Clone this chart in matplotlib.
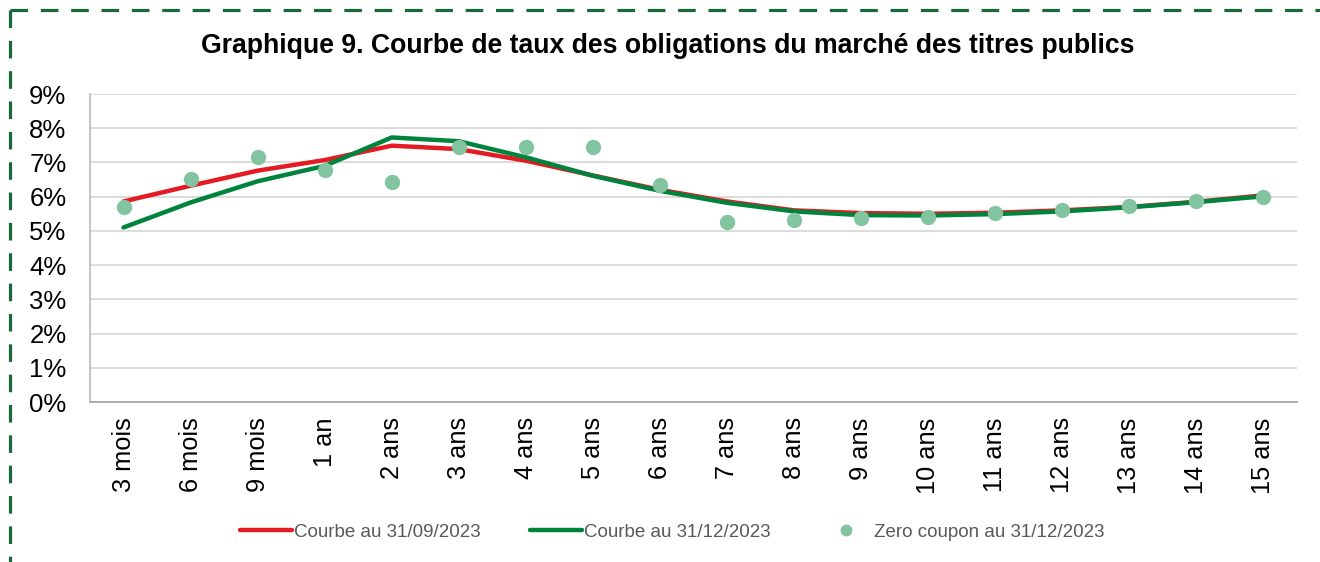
import matplotlib
matplotlib.use("Agg")
import matplotlib.pyplot as plt
from matplotlib.lines import Line2D

plt.rcParams['font.family'] = ['Liberation Sans', 'DejaVu Sans']

categories = ["3 mois", "6 mois", "9 mois", "1 an", "2 ans", "3 ans", "4 ans", "5 ans",
              "6 ans", "7 ans", "8 ans", "9 ans", "10 ans", "11 ans", "12 ans", "13 ans",
              "14 ans", "15 ans"]
courbe_sep = [5.86, 6.32, 6.76, 7.07, 7.49, 7.39, 7.05, 6.62, 6.20, 5.86, 5.60, 5.52,
              5.50, 5.53, 5.60, 5.70, 5.85, 6.04]
courbe_dec = [5.10, 5.83, 6.45, 6.90, 7.73, 7.62, 7.15, 6.61, 6.17, 5.82, 5.57, 5.46,
              5.45, 5.49, 5.57, 5.69, 5.84, 6.01]
zero_coupon = [5.69, 6.52, 7.15, 6.79, 6.42, 7.46, 7.44, 7.44, 6.34, 5.25, 5.32, 5.38,
               5.40, 5.52, 5.62, 5.74, 5.87, 6.00]
yticks = [0, 1, 2, 3, 4, 5, 6, 7, 8, 9]

W, H = 1320, 562
fig = plt.figure(figsize=(W / 100, H / 100), dpi=100)
ax = fig.add_axes([90 / W, (H - 402) / H, 1207 / W, 308 / H])

x = list(range(len(categories)))
red = '#e31b23'
green = '#00843d'
dot = '#82c49f'
ax.plot(x, courbe_sep, color=red, lw=3.2, solid_capstyle='round', zorder=3,
        label='Courbe au 31/09/2023')
ax.plot(x, courbe_dec, color=green, lw=3.2, solid_capstyle='round', zorder=4,
        label='Courbe au 31/12/2023')
ax.plot(x, zero_coupon, ls='none', marker='o', ms=10, color=dot, mec=dot, zorder=5,
        label='Zero coupon au 31/12/2023')

ax.set_xlim(-0.5, len(categories) - 0.5)
ax.set_ylim(0, 9)
ax.set_yticks(yticks)
ax.set_yticklabels([f"{v}%" for v in yticks], fontsize=18.5)
ax.set_xticks(x)
ax.set_xticklabels(categories, rotation=90, fontsize=18.3)
ax.tick_params(axis='y', length=0, pad=17)
ax.tick_params(axis='x', length=0, pad=11)
ax.grid(axis='y', color='#d9d9d9', lw=1.3, zorder=0)
ax.set_axisbelow(True)
for s in ['top', 'right']:
    ax.spines[s].set_visible(False)
ax.spines['left'].set_color('#bfbfbf')
ax.spines['bottom'].set_color('#a6a6a6')
ax.spines['left'].set_linewidth(1.3)
ax.spines['bottom'].set_linewidth(1.3)

fig.text(668 / W, 1 - 46 / H, "Graphique 9. Courbe de taux des obligations du marché des titres publics",
         ha='center', va='center', fontsize=19.2, fontweight='bold')

fig.legend(loc='center', bbox_to_anchor=(672 / W, 1 - 532 / H), ncol=3, frameon=False,
           fontsize=13.5, labelcolor='#595959', handlelength=2.8, columnspacing=2.6,
           handletextpad=0.1, markerscale=0.75)

border = '#17693a'
fig.add_artist(Line2D([10 / W, 1.0], [1 - 10 / H, 1 - 10 / H], transform=fig.transFigure,
                      color=border, lw=2.3, ls=(0, (5.5, 4))))
fig.add_artist(Line2D([10 / W, 10 / W], [1 - 10 / H, 0], transform=fig.transFigure,
                      color=border, lw=2.3, ls=(0, (5.5, 4))))

fig.savefig('out.png', dpi=100)
